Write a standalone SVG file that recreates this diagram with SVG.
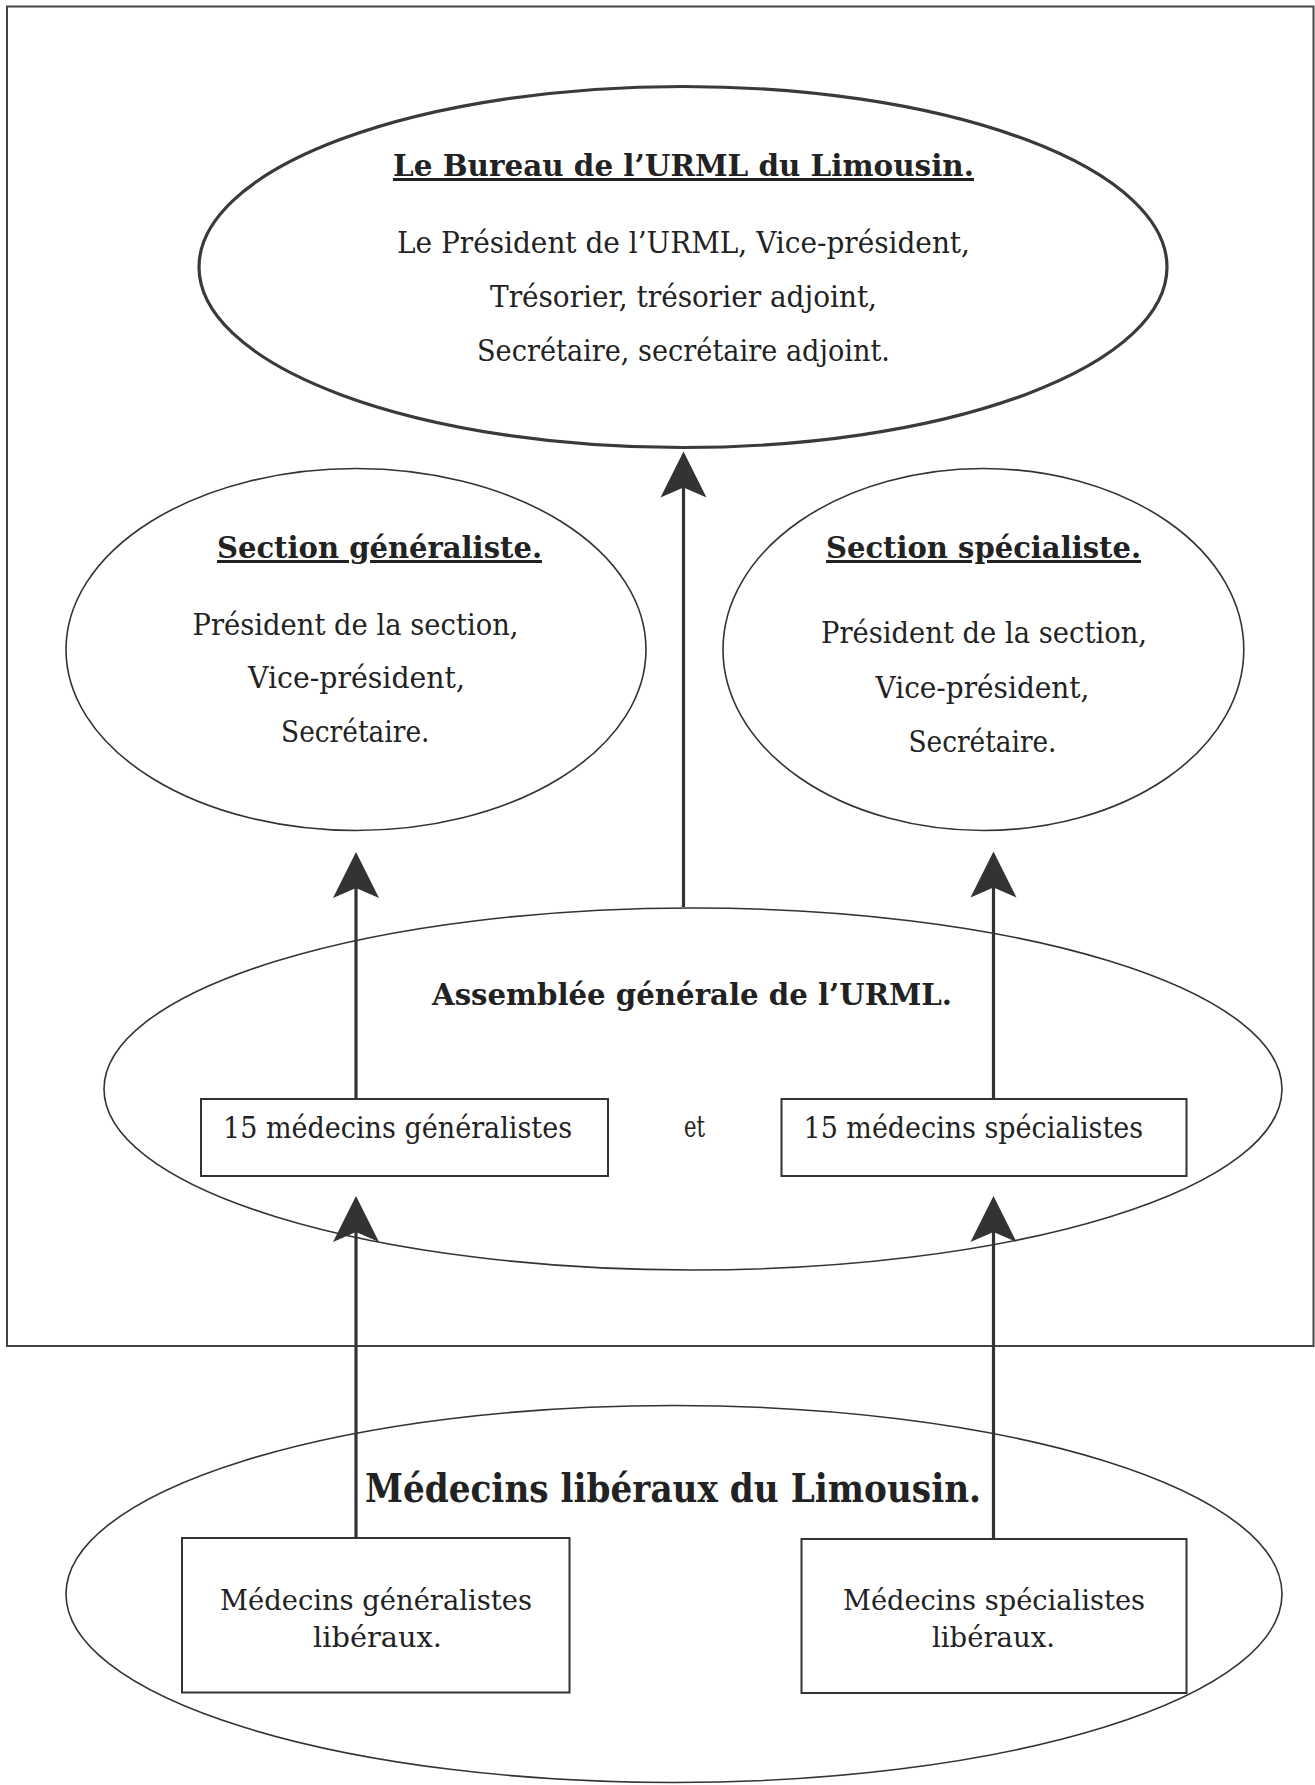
<svg xmlns="http://www.w3.org/2000/svg" width="1315" height="1785" viewBox="0 0 1315 1785">
<style>
.t{font-family:"DejaVu Serif","Liberation Serif",serif;fill:#222;font-size:29px}
.b{font-weight:bold;font-size:30px}
.u{text-decoration:underline}
.e{fill:none;stroke:#333;stroke-width:1.6}
.eb{fill:none;stroke:#3a3a3a;stroke-width:3.2}
.r{fill:#fff;stroke:#333;stroke-width:2}
.c{stroke:#333;stroke-width:3.2;fill:none;marker-end:url(#arrow)}
.frame{fill:none;stroke:#444;stroke-width:2}
.s{font-size:28px}
</style>
<defs>
<marker id="arrow" markerUnits="userSpaceOnUse" viewBox="-48 -26 50 52" refX="-12" refY="0" markerWidth="50" markerHeight="52" orient="auto">
<path d="M0,0 L-46,-23 L-36,0 L-46,23 Z" fill="#333"/>
</marker>
</defs>
<rect width="1315" height="1785" fill="#fff"/>
<rect class="frame" x="7" y="6.5" width="1306.5" height="1339.5"/>

<g id="bureau">
<ellipse class="eb" cx="683" cy="267" rx="484" ry="180.5"/>
<text class="t b u" x="393" y="176" textLength="581" lengthAdjust="spacingAndGlyphs">Le Bureau de l’URML du Limousin.</text>
<text class="t" x="397" y="253" textLength="573" lengthAdjust="spacingAndGlyphs">Le Président de l’URML, Vice-président,</text>
<text class="t" x="490" y="307" textLength="387" lengthAdjust="spacingAndGlyphs">Trésorier, trésorier adjoint,</text>
<text class="t" x="477" y="361" textLength="413" lengthAdjust="spacingAndGlyphs">Secrétaire, secrétaire adjoint.</text>
</g>

<g id="section-generaliste">
<ellipse class="e" cx="356" cy="649.5" rx="290" ry="181"/>
<text class="t b u" x="217" y="558" textLength="325" lengthAdjust="spacingAndGlyphs">Section généraliste.</text>
<text class="t" x="192.5" y="635" textLength="326" lengthAdjust="spacingAndGlyphs">Président de la section,</text>
<text class="t" x="248" y="688" textLength="217" lengthAdjust="spacingAndGlyphs">Vice-président,</text>
<text class="t" x="281" y="742" textLength="148.5" lengthAdjust="spacingAndGlyphs">Secrétaire.</text>
</g>

<g id="section-specialiste">
<ellipse class="e" cx="983.4" cy="649.5" rx="260.4" ry="181"/>
<text class="t b u" x="826" y="558" textLength="315" lengthAdjust="spacingAndGlyphs">Section spécialiste.</text>
<text class="t" x="821" y="643" textLength="326" lengthAdjust="spacingAndGlyphs">Président de la section,</text>
<text class="t" x="875.5" y="698" textLength="214" lengthAdjust="spacingAndGlyphs">Vice-président,</text>
<text class="t" x="908.5" y="752" textLength="148" lengthAdjust="spacingAndGlyphs">Secrétaire.</text>
</g>

<g id="assemblee">
<ellipse class="e" cx="693" cy="1089" rx="589" ry="181"/>
<text class="t b" x="432" y="1005" textLength="520" lengthAdjust="spacingAndGlyphs">Assemblée générale de l’URML.</text>
<text class="t" x="684" y="1137" textLength="21" lengthAdjust="spacingAndGlyphs">et</text>
</g>

<g id="box-15-generalistes">
<rect class="r" x="201" y="1099" width="407" height="77"/>
<text class="t" x="223" y="1138" textLength="349" lengthAdjust="spacingAndGlyphs">15 médecins généralistes</text>
</g>

<g id="box-15-specialistes">
<rect class="r" x="781.5" y="1099" width="405" height="77"/>
<text class="t" x="803.5" y="1138" textLength="339.5" lengthAdjust="spacingAndGlyphs">15 médecins spécialistes</text>
</g>

<g id="medecins-liberaux">
<ellipse class="e" cx="674" cy="1594" rx="608" ry="188.5"/>
<text class="t b" style="font-size:39px" x="365" y="1502" textLength="616" lengthAdjust="spacingAndGlyphs">Médecins libéraux du Limousin.</text>
</g>

<g id="box-generalistes-liberaux">
<rect class="r" x="182" y="1538" width="387.5" height="154.5"/>
<text class="t s" x="220" y="1610" textLength="312" lengthAdjust="spacingAndGlyphs">Médecins généralistes</text>
<text class="t s" x="313" y="1647" textLength="129" lengthAdjust="spacingAndGlyphs">libéraux.</text>
</g>

<g id="box-specialistes-liberaux">
<rect class="r" x="801.5" y="1539" width="385" height="154"/>
<text class="t s" x="843" y="1610" textLength="302" lengthAdjust="spacingAndGlyphs">Médecins spécialistes</text>
<text class="t s" x="932" y="1647" textLength="123" lengthAdjust="spacingAndGlyphs">libéraux.</text>
</g>

<g id="connectors">
<path class="c" d="M683.5,907 L683.5,463.5"/>
<path class="c" d="M356,1099 L356,864"/>
<path class="c" d="M993.5,1099 L993.5,863.5"/>
<path class="c" d="M356,1538 L356,1208"/>
<path class="c" d="M993.5,1539 L993.5,1208"/>
</g>
</svg>
